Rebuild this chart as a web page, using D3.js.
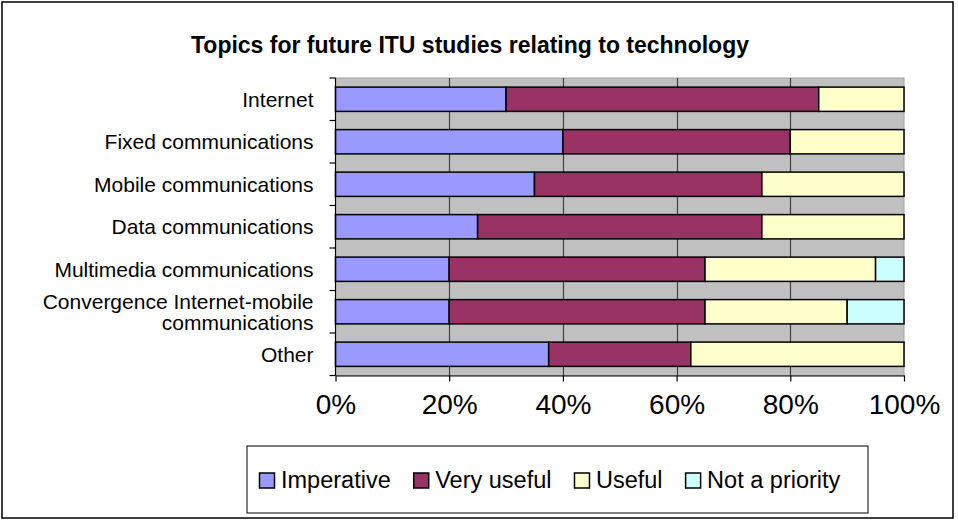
<!DOCTYPE html>
<html>
<head>
<meta charset="utf-8">
<script src="https://cdn.jsdelivr.net/npm/d3@7"></script>
<style>
  html, body { margin: 0; padding: 0; background: #fff; }
  svg { display: block; }
  text { font-family: Arial, "Liberation Sans", sans-serif; fill: #000; }
</style>
</head>
<body>
<svg id="chart" width="958" height="522"></svg>
<script>
// ---- data ----
const categories = [
  "Internet",
  "Fixed communications",
  "Mobile communications",
  "Data communications",
  "Multimedia communications",
  "Convergence Internet-mobile\ncommunications",
  "Other"
];
const seriesNames = ["Imperative", "Very useful", "Useful", "Not a priority"];
const imperative  = [30, 40, 35, 25, 20, 20, 37.5];
const veryUseful  = [55, 40, 40, 50, 45, 45, 25];
const useful      = [15, 20, 25, 25, 30, 25, 37.5];
const notPriority = [0, 0, 0, 0, 5, 10, 0];
const tickValues  = [0, 0.2, 0.4, 0.6, 0.8, 1.0];
const title = "Topics for future ITU studies relating to technology";
const colors = ["#9999FF", "#993366", "#FFFFCC", "#CCFFFF"];

// ---- layout ----
const svg = d3.select("#chart");
const W = 958, H = 522;
const plot = { left: 335.5, right: 904, top: 78, bottom: 375.5 };

svg.append("rect").attr("x", 0).attr("y", 0).attr("width", W).attr("height", H).attr("fill", "#fff");
svg.append("rect").attr("x", 2).attr("y", 2).attr("width", 951).attr("height", 516)
  .attr("fill", "none").attr("stroke", "#000").attr("stroke-width", 1.5);

svg.append("text").attr("x", 470).attr("y", 53).attr("text-anchor", "middle")
  .attr("font-size", 23).attr("font-weight", "bold").text(title);

const x = d3.scaleLinear().domain([0, 1]).range([plot.left, plot.right]);
const y = d3.scaleBand().domain(d3.range(categories.length)).range([plot.top, plot.bottom])
  .paddingInner(0.4286).paddingOuter(0.2143);

// plot background
svg.append("rect").attr("x", plot.left).attr("y", plot.top)
  .attr("width", plot.right - plot.left).attr("height", plot.bottom - plot.top)
  .attr("fill", "#C0C0C0").attr("stroke", "#A0A0A0").attr("stroke-width", 1);

// gridlines
svg.append("g").selectAll("line").data(tickValues.slice(1, -1)).join("line")
  .attr("x1", d => Math.round(x(d)) + 0.5).attr("x2", d => Math.round(x(d)) + 0.5)
  .attr("y1", plot.top).attr("y2", plot.bottom)
  .attr("stroke", "#404040").attr("stroke-width", 1.2);

// stacked data
const table = categories.map((c, i) => ({
  idx: i,
  "Imperative": imperative[i],
  "Very useful": veryUseful[i],
  "Useful": useful[i],
  "Not a priority": notPriority[i]
}));
const stack = d3.stack().keys(seriesNames).offset(d3.stackOffsetExpand);
const layers = stack(table);

const gBars = svg.append("g");
layers.forEach((layer, li) => {
  gBars.append("g").selectAll("rect").data(layer.filter(d => d[1] - d[0] > 0)).join("rect")
    .attr("x", d => x(d[0]))
    .attr("y", d => y(d.data.idx))
    .attr("width", d => x(d[1]) - x(d[0]))
    .attr("height", y.bandwidth())
    .attr("fill", colors[li])
    .attr("stroke", "#000")
    .attr("stroke-width", 1.5);
});

// x axis
const xAxis = d3.axisBottom(x).tickValues(tickValues).tickFormat(d3.format(".0%"))
  .tickSizeInner(6).tickSizeOuter(0).tickPadding(13);
const gx = svg.append("g").attr("transform", `translate(0,${plot.bottom})`).call(xAxis);
gx.select(".domain").attr("stroke", "#000").attr("stroke-width", 1.2);
gx.selectAll(".tick line").attr("stroke", "#000").attr("stroke-width", 1.2);
gx.selectAll(".tick text").attr("font-size", 28).attr("font-family", "Arial, 'Liberation Sans', sans-serif")
  .attr("fill", "#000").attr("dy", "0.71em");

// y axis line and ticks at band boundaries
const boundaries = d3.range(categories.length + 1).map(i => plot.top + i * (plot.bottom - plot.top) / categories.length);
svg.append("line").attr("x1", plot.left).attr("x2", plot.left).attr("y1", plot.top).attr("y2", plot.bottom)
  .attr("stroke", "#000").attr("stroke-width", 1.2);
svg.append("g").selectAll("line").data(boundaries).join("line")
  .attr("x1", plot.left - 6).attr("x2", plot.left)
  .attr("y1", d => d).attr("y2", d => d)
  .attr("stroke", "#000").attr("stroke-width", 1.2);

// category labels
const fs = 21;
const gLab = svg.append("g");
categories.forEach((c, i) => {
  const lines = c.split("\n");
  const cy = y(i) + y.bandwidth() / 2;
  const t = gLab.append("text").attr("text-anchor", "end").attr("font-size", fs);
  lines.forEach((ln, k) => {
    t.append("tspan").attr("x", 313.5)
      .attr("y", cy + 0.35 * fs + (k - (lines.length - 1) / 2) * fs)
      .text(ln);
  });
});

// legend
const leg = svg.append("g");
leg.append("rect").attr("x", 247).attr("y", 446).attr("width", 621).attr("height", 67)
  .attr("fill", "#fff").attr("stroke", "#000").attr("stroke-width", 1);
let lx = 259.5;
seriesNames.forEach((name, i) => {
  leg.append("rect").attr("x", lx).attr("y", 473).attr("width", 15).attr("height", 15)
    .attr("fill", colors[i]).attr("stroke", "#000").attr("stroke-width", 1.5);
  const t = leg.append("text").attr("x", lx + 21.5).attr("y", 488).attr("font-size", 23.5).text(name);
  const w = t.node().getComputedTextLength();
  lx = lx + 21.5 + w + 23;
});
</script>
</body>
</html>
